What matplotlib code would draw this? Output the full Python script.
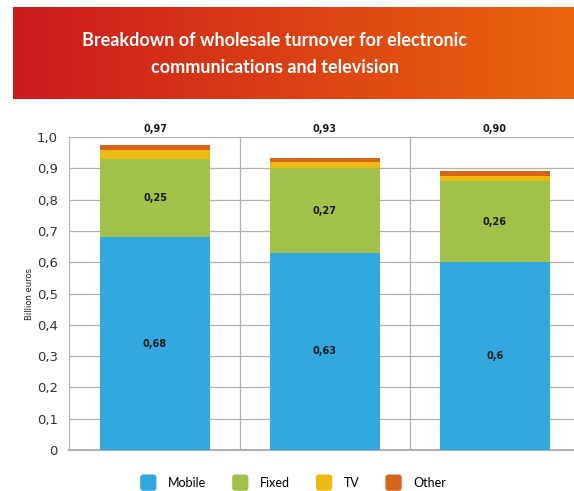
import numpy as np
import matplotlib.pyplot as plt
from matplotlib.patches import FancyBboxPatch
from matplotlib.legend_handler import HandlerPatch

# data
years = ["A", "B", "C"]
mobile = [0.68, 0.63, 0.60]
fixed = [0.25, 0.27, 0.26]
tv = [0.028, 0.02, 0.016]
other = [0.015, 0.013, 0.014]
totals = ["0,97", "0,93", "0,90"]
mobile_labels = ["0,68", "0,63", "0,6"]
fixed_labels = ["0,25", "0,27", "0,26"]
series_names = ["Mobile", "Fixed", "TV", "Other"]
colors = ["#33A8E0", "#A2C14A", "#EDB913", "#D4651A"]

W, H = 574, 491
fig = plt.figure(figsize=(W / 100, H / 100), dpi=100)

# gradient header banner
hx0, hy0, hx1, hy1 = 13, 7, 574, 99
hax = fig.add_axes([hx0 / W, 1 - hy1 / H, (hx1 - hx0) / W, (hy1 - hy0) / H])
c0 = np.array([0xCC, 0x1A, 0x1D]) / 255
c1 = np.array([0xEA, 0x66, 0x0C]) / 255
t = np.linspace(0, 1, 256)[None, :, None]
grad = c0 + (c1 - c0) * t
hax.imshow(grad, aspect="auto", extent=[0, 1, 0, 1])
hax.set_axis_off()
fig.text(275 / W, 1 - 54 / H, "Breakdown of wholesale turnover for electronic\ncommunications and television",
         ha="center", va="center", color="white", fontsize=13, fontweight="bold",
         family="Lato", linespacing=1.65)

# main chart
ax = fig.add_axes([69 / W, 1 - 450 / H, (574 - 69) / W, (450 - 137) / H])
x = np.arange(len(years))
width = 0.65
bottom = np.zeros(len(years))
for vals, col, name in zip([mobile, fixed, tv, other], colors, series_names):
    ax.bar(x, vals, width, bottom=bottom, color=col, label=name, zorder=3)
    bottom = bottom + np.array(vals)

for i in range(len(years)):
    ax.text(x[i], mobile[i] / 2, mobile_labels[i], ha="center", va="center",
            fontsize=7, fontweight="bold", color="#1a1a1a", zorder=4)
    ax.text(x[i], mobile[i] + fixed[i] / 2, fixed_labels[i], ha="center", va="center",
            fontsize=7, fontweight="bold", color="#1a1a1a", zorder=4)
    ax.text(x[i], 1.027, totals[i], ha="center", va="center",
            fontsize=7, fontweight="bold", color="#1a1a1a", clip_on=False)

ax.set_xlim(-0.506, 2.465)
ax.set_ylim(0, 1.0)
ax.set_yticks(np.arange(0, 1.01, 0.1))
ax.set_yticklabels(["0"] + [f"{v:.1f}".replace(".", ",") for v in np.arange(0.1, 1.01, 0.1)])
ax.set_xticks([])
ax.yaxis.grid(True, color="#b0b0b0", linewidth=0.9, zorder=0)
for xv in [0.5, 1.5]:
    ax.axvline(xv, color="#b0b0b0", linewidth=0.9, zorder=0)
ax.tick_params(axis="y", length=0, labelsize=9.5, colors="#333333", pad=8)
for s in ["top", "right"]:
    ax.spines[s].set_visible(False)
ax.spines["left"].set_color("#b0b0b0")
ax.spines["bottom"].set_color("#b0b0b0")
ax.spines["bottom"].set_linewidth(1.5)
ax.set_ylabel("Billion euros", fontsize=6, color="#222222", labelpad=2)


# rounded square legend keys, centred on the text line
class RoundHandler(HandlerPatch):
    def create_artists(self, legend, orig, xd, yd, w, h, fontsize, trans):
        s = w
        cy = yd + h / 2
        p = FancyBboxPatch((xd, cy - s / 2), s, s,
                           boxstyle="round,pad=0,rounding_size=2",
                           facecolor=orig.get_facecolor(), edgecolor="none", transform=trans)
        return [p]


handles = [FancyBboxPatch((0, 0), 1, 1, facecolor=c, edgecolor="none") for c in colors]
fig.legend(handles, series_names, loc="center", bbox_to_anchor=(293 / W, 1 - 483 / H),
           ncol=4, frameon=False, handlelength=1.3,
           columnspacing=2.1, handletextpad=0.9, prop={"family": "Lato", "size": 9},
           handler_map={FancyBboxPatch: RoundHandler()})

fig.savefig("out.png", dpi=100)
